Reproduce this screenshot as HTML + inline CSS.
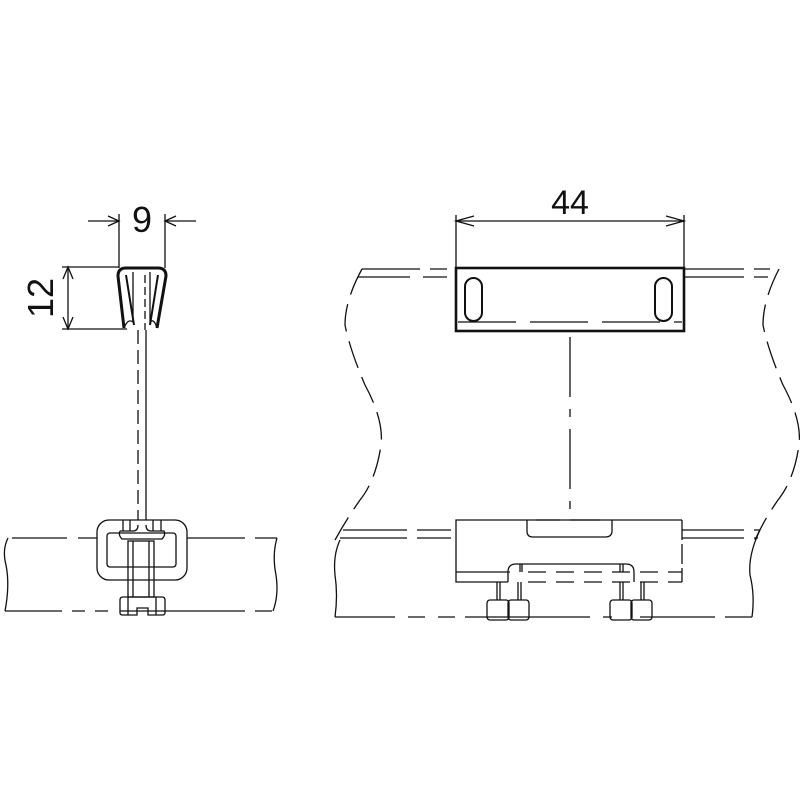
<!DOCTYPE html>
<html><head><style>html,body{margin:0;padding:0;background:#fff}svg{display:block}</style></head>
<body>
<svg width="800" height="800" viewBox="0 0 800 800" xmlns="http://www.w3.org/2000/svg" fill="none" stroke="#111" stroke-width="1.3">
<!-- LEFT VIEW -->
<!-- dim 9 -->
<line x1="119" y1="214" x2="119" y2="268"/>
<line x1="165" y1="214" x2="165" y2="268"/>
<line x1="88" y1="221" x2="119" y2="221"/>
<line x1="165" y1="221" x2="196" y2="221"/>
<polyline points="108,216 119,221 108,226"/>
<polyline points="176,216 165,221 176,226"/>
<text x="142" y="232" font-family="Liberation Sans, sans-serif" font-size="36" fill="#111" stroke="none" text-anchor="middle">9</text>
<!-- dim 12 -->
<line x1="62" y1="267" x2="119" y2="267"/>
<line x1="62" y1="329" x2="127" y2="329"/>
<line x1="68" y1="267" x2="68" y2="329"/>
<polyline points="63,279 68,267 73,279"/>
<polyline points="63,317 68,329 73,317"/>
<text transform="translate(53,298) rotate(-90)" font-family="Liberation Sans, sans-serif" font-size="36" fill="#111" stroke="none" text-anchor="middle">12</text>
<!-- clip -->
<path d="M124,328 L118,276 Q118,268 126,268 L158,268 Q166,268 166,276 L157,328" stroke-width="3"/>
<path d="M124,328 Q128,318 133,322 L133,272" />
<path d="M157,328 Q154,318 150,322 L150,272"/>
<path d="M126,275 L134,325 M158,275 L150,325" stroke-width="2"/>
<line x1="145" y1="275" x2="145" y2="330" stroke-dasharray="8 4"/>
<line x1="138" y1="330" x2="138" y2="520" stroke-dasharray="14 6"/>
<line x1="146" y1="330" x2="146" y2="520"/>
<!-- base -->
<path d="M12,538 L67,538 M78,538 L97,538 M187,538 L245,538 M255,538 L277,538"/>
<path d="M5,611 L62,611 M72,611 L85,611 M95,611 L108,611 M120,611 L165,611 M165,611 L245,611 M255,611 L272,611"/>
<path d="M8,538 Q2,550 6,565 Q10,585 5,611"/>
<path d="M277,538 Q272,555 276,575 Q279,595 273,611"/>
<!-- bracket -->
<rect x="97" y="520" width="90" height="60" rx="12"/>
<rect x="107" y="533" width="69" height="34" rx="3"/>
<path d="M123,520 L123,531 M130,520 L130,531 M153,520 L153,531 M161,520 L161,531"/>
<path d="M120,531 L133,531 Q138,531 138,525 M146,525 Q146,531 151,531 L164,531 Q166,535 162,539 L122,539 Q118,535 120,531"/>
<rect x="128" y="541" width="26" height="56"/>
<path d="M133,541 L133,597 M149,541 L149,597"/>
<path d="M120,600 Q120,597 123,597 L162,597 Q165,597 165,600 L165,613 Q165,615 162,615 L148,615 L148,608 L137,608 L137,615 L123,615 Q120,615 120,613 Z"/>
<path d="M128,597 L128,615 M156,597 L156,615"/>

<!-- RIGHT VIEW -->
<!-- dim 44 -->
<line x1="456" y1="215" x2="456" y2="268"/>
<line x1="684" y1="215" x2="684" y2="268"/>
<line x1="456" y1="221" x2="684" y2="221"/>
<polyline points="474,216 456,221 474,226"/>
<polyline points="666,216 684,221 666,226"/>
<text x="570" y="214" font-family="Liberation Sans, sans-serif" font-size="34" fill="#111" stroke="none" text-anchor="middle">44</text>
<!-- top double lines -->
<path d="M362,269 L420,269 M430,269 L447,269 M358,277 L410,277 M423,277 L447,277"/>
<path d="M684,269 L744,269 M754,269 L770,269 M684,277 L744,277 M754,277 L768,277"/>
<!-- plate -->
<rect x="456" y="268" width="228" height="63" stroke-width="2.6"/>
<line x1="458" y1="322" x2="682" y2="322" stroke-dasharray="58 14"/>
<rect x="465" y="278" width="17" height="43" rx="8.5" stroke-width="2"/>
<rect x="655" y="278" width="17" height="43" rx="8.5" stroke-width="2"/>
<!-- center line -->
<line x1="570" y1="337" x2="570" y2="520" stroke-dasharray="60 12 8 12"/>
<!-- wavy sides -->
<path d="M362,269 Q345,300 345,325 Q350,350 365,385 Q384,420 381,445 Q376,480 360,500 Q346,520 335,540" stroke-dasharray="28 10"/>
<path d="M779,269 Q763,300 763,325 Q768,350 783,385 Q802,420 799,445 Q794,480 778,500 Q764,520 755,540" stroke-dasharray="28 10"/>
<path d="M340,540 Q333,555 335,575 Q338,595 335,617" />
<path d="M760,530 Q748,555 750,575 Q755,595 752,617"/>
<!-- base lines -->
<path d="M343,530 L407,530 M417,530 L451,530 M340,538 L407,538 M417,538 L451,538"/>
<path d="M682,530 L744,530 M754,530 L760,530 M682,538 L744,538 M754,538 L758,538"/>
<path d="M335,617 L395,617 M408,617 L425,617 M438,617 L455,617 M465,617 L590,617 M603,617 L612,617 M640,617 L715,617 M725,617 L752,617"/>
<!-- body -->
<path d="M682,520 L456,520 L456,582 L508,582"/>
<path d="M456,572 L510,572"/>
<path d="M682,520 L682,582" stroke-dasharray="20 4"/>
<path d="M527,520 L527,531 Q527,537 533,537 L605,537 Q612,537 612,531 L612,520"/>
<path d="M536,520 L560,520 M570,520 L600,520"/>
<!-- lower bar -->
<path d="M508,582 L508,572 Q508,564 516,564 L626,564 Q634,564 634,572 L634,582"/>
<path d="M520,564 L520,572 M522,564 L522,572 M620,564 L620,572 M623,564 L623,572"/>
<path d="M528,572 L682,572 M528,582 L682,582" stroke-dasharray="18 10"/>
<!-- nuts -->
<path d="M497,582 L497,600 M500,582 L500,600 M518,582 L518,600 M521,582 L521,600"/>
<path d="M620,582 L620,600 M623,582 L623,600 M641,582 L641,600 M644,582 L644,600"/>
<rect x="487" y="600" width="22" height="20" rx="3"/>
<rect x="508" y="600" width="21" height="20" rx="3"/>
<rect x="610" y="600" width="22" height="20" rx="3"/>
<rect x="631" y="600" width="21" height="20" rx="3"/>
</svg>
</body></html>
